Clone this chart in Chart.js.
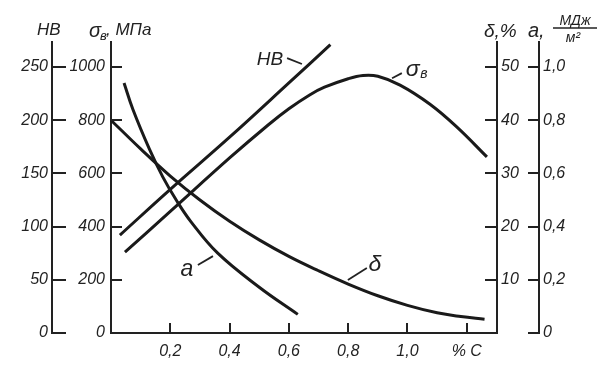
<!DOCTYPE html>
<html>
<head>
<meta charset="utf-8">
<script src="https://cdn.jsdelivr.net/npm/chart.js@4.4.1/dist/chart.umd.min.js"></script>
<style>
html,body{margin:0;padding:0;background:#fff;}
#wrap{width:611px;height:366px;}
</style>
</head>
<body>
<div id="wrap"><canvas id="c" width="611" height="366"></canvas></div>
<script>
// ---- data (carbon content, %) ----
const carbonHB = [0.03, 0.2, 0.4, 0.6, 0.74];
const hbValues = [92, 135, 184, 235, 271];

const carbonSigma = [0.047, 0.2, 0.4, 0.53, 0.6, 0.67, 0.72, 0.8, 0.85, 0.9, 0.975, 1.076, 1.167, 1.268];
const sigmaValues = [304, 457, 658, 782, 843, 895, 924, 956, 968, 965, 932, 860, 774, 662];

const carbonDelta = [0, 0.1, 0.2, 0.3, 0.4, 0.5, 0.6, 0.7, 0.8, 0.9, 1.0, 1.1, 1.18, 1.26];
const deltaValues = [40, 34.6, 29.5, 25.0, 21.0, 17.5, 14.4, 11.7, 9.2, 7.0, 5.2, 3.8, 3.1, 2.6];

const carbonA = [0.044, 0.074, 0.13, 0.175, 0.22, 0.27, 0.36, 0.5, 0.63];
const aValues = [0.94, 0.84, 0.69, 0.586, 0.50, 0.418, 0.300, 0.172, 0.07];

// ---- ticks ----
const xTickValues = [0.2, 0.4, 0.6, 0.8, 1.0, 1.2];
const xTickLabels = ['0,2', '0,4', '0,6', '0,8', '1,0', '% C'];
const hbTicks = [0, 50, 100, 150, 200, 250];
const sigmaTicks = [0, 200, 400, 600, 800, 1000];
const deltaTicks = [10, 20, 30, 40, 50];
const aTicks = [0, 0.2, 0.4, 0.6, 0.8, 1.0];
const aTickLabels = ['0', '0,2', '0,4', '0,6', '0,8', '1,0'];

const INK = '#222222';
const FONT = "'Liberation Sans', Arial, sans-serif";
const tickFont = {family: FONT, size: 16, style: 'italic'};

function pts(xs, ys) { return xs.map((x, i) => ({x: x, y: ys[i]})); }

function yAxis(pos, weight, max, ticksArr, width, pad, labelFn) {
  return {
    type: 'linear', position: pos, weight: weight, min: 0, max: max,
    afterBuildTicks: s => { s.ticks = ticksArr.map(v => ({value: v})); },
    afterFit: s => { s.width = width; },
    grid: {display: false, drawTicks: false},
    border: {display: true, color: INK, width: 2},
    ticks: {padding: pad, font: tickFont, color: INK, autoSkip: false,
            callback: (v, i) => labelFn(v, i)}
  };
}

const tickMarks = {
  id: 'tickMarks',
  afterDraw(chart) {
    const ctx = chart.ctx;
    ctx.save();
    ctx.strokeStyle = INK;
    ctx.lineWidth = 2;
    const specs = [
      ['yHB', 'right', 14, true],
      ['ySig', 'right', 11, false],
      ['yD', 'left', -12, true],
      ['yA', 'left', -11, true]
    ];
    specs.forEach(([id, side, len, zero]) => {
      const s = chart.scales[id];
      const bx = side === 'right' ? s.right : s.left;
      s.ticks.forEach(t => {
        if (t.value === 0 && !zero) return;
        const y = Math.round(s.getPixelForValue(t.value));
        ctx.beginPath(); ctx.moveTo(bx, y); ctx.lineTo(bx + len, y); ctx.stroke();
      });
    });
    const sx = chart.scales.x;
    sx.ticks.forEach(t => {
      const x = Math.round(sx.getPixelForValue(t.value));
      ctx.beginPath(); ctx.moveTo(x, sx.top); ctx.lineTo(x, sx.top - 10); ctx.stroke();
    });

    // axis titles
    ctx.fillStyle = INK;
    ctx.textBaseline = 'alphabetic';
    ctx.font = "italic 17px " + FONT;
    ctx.textAlign = 'left';
    ctx.fillText('НВ', 37, 35);
    ctx.font = "italic 20px " + FONT;
    ctx.fillText('σ', 89, 37);
    ctx.font = "italic 13px " + FONT;
    ctx.fillText('в', 100, 40);
    ctx.font = "italic 17px " + FONT;
    ctx.fillText(', МПа', 106, 35);
    ctx.font = "italic 19px " + FONT;
    ctx.fillText('δ,%', 484, 37);
    ctx.font = "italic 20px " + FONT;
    ctx.fillText('a,', 528, 37);
    ctx.font = "italic 14px " + FONT;
    ctx.textAlign = 'center';
    ctx.fillText('МДж', 575, 25);
    ctx.fillText('м²', 573, 42);
    ctx.beginPath(); ctx.lineWidth = 1.5; ctx.moveTo(553, 28); ctx.lineTo(597, 28); ctx.stroke();

    // curve labels with leader lines (positioned in data space)
    const xs = chart.scales.x;
    const labels = [
      {t: 'НВ', ax: 'yHB', x: 0.536, y: 256.6, a: [0.594, 258.4], b: [0.644, 252.8], size: 19},
      {t: 'σ', sub: 'в', ax: 'ySig', x: 1.018, y: 992, a: [0.948, 958], b: [0.981, 977], size: 23},
      {t: 'a', ax: 'yA', x: 0.256, y: 0.237, a: [0.293, 0.256], b: [0.344, 0.289], size: 23},
      {t: 'δ', ax: 'yD', x: 0.890, y: 12.8, a: [0.799, 9.96], b: [0.863, 12.2], size: 23}
    ];
    labels.forEach(l => {
      const ys = chart.scales[l.ax];
      ctx.lineWidth = 1.8;
      ctx.beginPath();
      ctx.moveTo(xs.getPixelForValue(l.a[0]), ys.getPixelForValue(l.a[1]));
      ctx.lineTo(xs.getPixelForValue(l.b[0]), ys.getPixelForValue(l.b[1]));
      ctx.stroke();
      const px = xs.getPixelForValue(l.x), py = ys.getPixelForValue(l.y);
      ctx.font = "italic " + l.size + "px " + FONT;
      ctx.textAlign = 'center';
      ctx.textBaseline = 'middle';
      ctx.fillText(l.t, px, py);
      if (l.sub) {
        ctx.font = "italic 14px " + FONT;
        ctx.fillText(l.sub, px + 11, py + 5);
      }
    });
    ctx.restore();
  }
};

const lineStyle = {borderColor: '#1a1a1a', borderWidth: 3, pointRadius: 0, fill: false,
                   tension: 0.4, clip: false};

new Chart(document.getElementById('c'), {
  type: 'line',
  data: {
    datasets: [
      Object.assign({label: 'НВ', data: pts(carbonHB, hbValues), yAxisID: 'yHB'}, lineStyle),
      Object.assign({label: 'σв', data: pts(carbonSigma, sigmaValues), yAxisID: 'ySig'}, lineStyle),
      Object.assign({label: 'δ', data: pts(carbonDelta, deltaValues), yAxisID: 'yD'}, lineStyle),
      Object.assign({label: 'a', data: pts(carbonA, aValues), yAxisID: 'yA'}, lineStyle)
    ]
  },
  options: {
    responsive: false,
    animation: false,
    devicePixelRatio: 1,
    layout: {padding: {top: 42, left: 0, right: 0, bottom: 0}},
    plugins: {legend: {display: false}, tooltip: {enabled: false}},
    scales: {
      x: {
        type: 'linear', position: 'bottom', min: 0, max: 1.302,
        afterBuildTicks: s => { s.ticks = xTickValues.map(v => ({value: v})); },
        afterFit: s => { s.height = 33; },
        grid: {display: false, drawTicks: false},
        border: {display: true, color: INK, width: 2},
        ticks: {padding: 9, font: tickFont, color: INK, autoSkip: false, maxRotation: 0,
                callback: (v, i) => xTickLabels[i]}
      },
      yHB: yAxis('left', 1, 273.5, hbTicks, 52, 4, v => String(v)),
      ySig: yAxis('left', 0, 1094, sigmaTicks, 59, 6, v => String(v)),
      yD: yAxis('right', 0, 54.7, deltaTicks, 42, 4, v => String(v)),
      yA: yAxis('right', 1, 1.094, aTicks, 72, 4, (v, i) => aTickLabels[i])
    }
  },
  plugins: [tickMarks]
});
</script>
</body>
</html>
